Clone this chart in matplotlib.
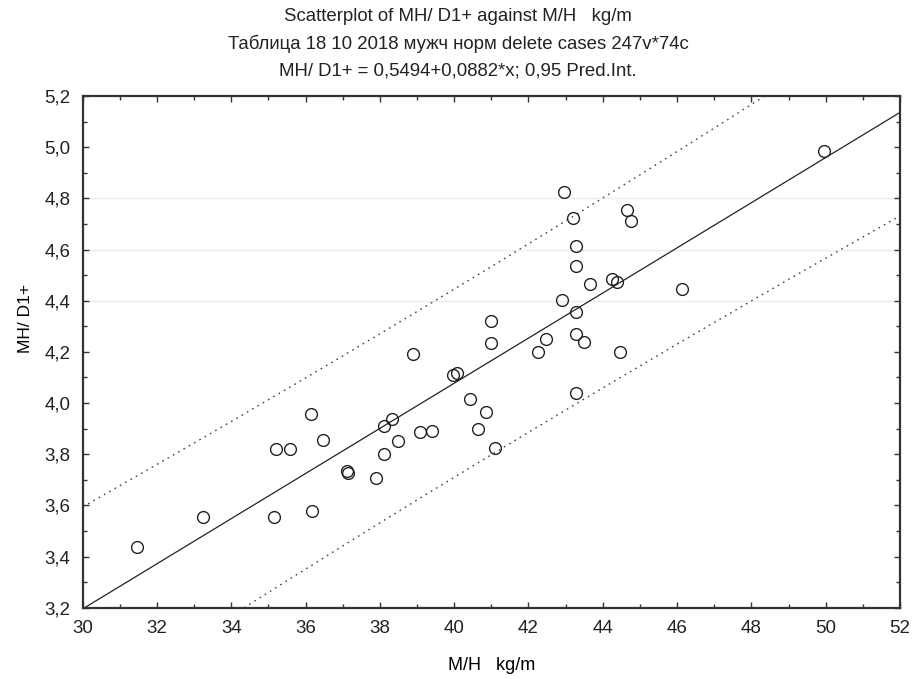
import numpy as np
import matplotlib
matplotlib.use("Agg")
from matplotlib import pyplot as plt
from matplotlib.ticker import MultipleLocator, FuncFormatter

plt.rcParams['font.family'] = ['Liberation Sans', 'DejaVu Sans']
plt.rcParams['text.color'] = '#222222'

# M/H (kg/m) and MH/D1+ per case
mh_kgm = [49.96, 42.95, 43.19, 44.64, 44.76, 43.27, 43.27, 44.26, 44.37, 43.65,
          46.14, 42.90, 43.27, 40.98, 40.98, 42.47, 42.25, 43.27, 43.49, 44.46,
          38.90, 39.98, 40.08, 40.43, 36.14, 36.46, 35.20, 35.58, 38.12, 38.32,
          38.50, 38.12, 39.08, 39.41, 37.11, 37.15, 37.90, 35.16, 36.18, 33.23,
          31.45, 40.85, 40.65, 41.10, 43.27]
mh_d1 = [4.985, 4.826, 4.722, 4.754, 4.710, 4.615, 4.535, 4.483, 4.474, 4.465,
         4.445, 4.402, 4.354, 4.322, 4.233, 4.250, 4.199, 4.268, 4.238, 4.199,
         4.190, 4.109, 4.118, 4.015, 3.957, 3.855, 3.821, 3.821, 3.910, 3.937,
         3.852, 3.802, 3.888, 3.892, 3.734, 3.725, 3.706, 3.555, 3.579, 3.553,
         3.438, 3.963, 3.898, 3.825, 4.040]

intercept = 0.5494
slope = 0.0882
t_crit = 2.017  # t(0.975, n-2), n = 45

x = np.array(mh_kgm)
y = np.array(mh_d1)
n = len(x)

# fitted line and 95% prediction interval
xs = np.linspace(30, 52, 200)
fit = intercept + slope * xs
resid = y - (intercept + slope * x)
s = np.sqrt(np.sum(resid ** 2) / (n - 2))
sxx = np.sum((x - x.mean()) ** 2)
half = t_crit * s * np.sqrt(1 + 1 / n + (xs - x.mean()) ** 2 / sxx)

fig = plt.figure(figsize=(9.16, 6.79), dpi=100)
ax = fig.add_axes([0.0903, 0.105, 0.8922, 0.7536])

for gy in (4.4, 4.6, 4.8):
    ax.axhline(gy, color='#ededed', lw=1.0, zorder=0)

ax.plot(xs, fit, color='#222222', lw=0.9, zorder=2)
ax.plot(xs, fit + half, color='#444444', lw=1.0, ls=(0, (1.2, 3.2)), zorder=2)
ax.plot(xs, fit - half, color='#444444', lw=1.0, ls=(0, (1.2, 3.2)), zorder=2)
ax.plot(x, y, 'o', mfc='none', mec='#222222', ms=8.5, mew=1.0, zorder=3)

ax.set_xlim(30, 52)
ax.set_ylim(3.2, 5.2)
ax.xaxis.set_major_locator(MultipleLocator(2))
ax.xaxis.set_minor_locator(MultipleLocator(1))
ax.yaxis.set_major_locator(MultipleLocator(0.2))
ax.yaxis.set_minor_locator(MultipleLocator(0.1))
ax.xaxis.set_major_formatter(FuncFormatter(lambda v, p: f"{v:.0f}"))
ax.yaxis.set_major_formatter(FuncFormatter(lambda v, p: f"{v:.1f}".replace('.', ',')))
ax.tick_params(which='both', direction='in', top=True, right=True,
               color='#333333', width=1.0, labelcolor='#222222')
ax.tick_params(which='major', length=4, labelsize=13.5)
ax.tick_params(axis='x', which='major', pad=9)
ax.tick_params(axis='y', which='major', pad=9)
ax.tick_params(which='minor', length=3)
for sp in ax.spines.values():
    sp.set_linewidth(1.6)
    sp.set_color('#333333')

ax.set_xlabel("M/H   kg/m", fontsize=13, labelpad=14)
ax.set_ylabel("MH/ D1+", fontsize=12.5)
ax.yaxis.set_label_coords(-0.061, 0.566)

fig.text(0.5, 0.975, "Scatterplot of MH/ D1+ against M/H   kg/m",
         ha='center', va='center', fontsize=13.4)
fig.text(0.5, 0.935, "Таблица 18 10 2018 мужч норм delete cases 247v*74c",
         ha='center', va='center', fontsize=13.4)
fig.text(0.5, 0.896, "MH/ D1+ = 0,5494+0,0882*x; 0,95 Pred.Int.",
         ha='center', va='center', fontsize=13.4)

fig.savefig("out.png", dpi=100)
